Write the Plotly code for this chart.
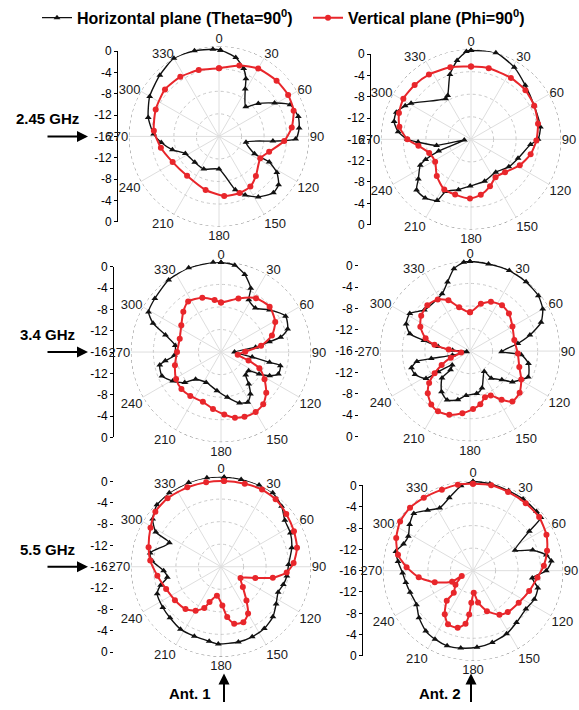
import plotly.graph_objects as go

# ---------------- data ----------------
ANGLE_TICKS = list(range(0, 360, 30))
ANGLE_LABELS = [str(a) for a in ANGLE_TICKS]
RADIAL_RANGE = [-16, 0]
SCALE_TICKVALS = [16, 12, 8, 4, 0, -4, -8, -12, -16]
SCALE_TICKTEXT = ['0', '-4', '-8', '-12', '-16', '-12', '-8', '-4', '0']
FREQ_LABELS = ['2.45 GHz', '3.4 GHz', '5.5 GHz']
ANT_LABELS = ['Ant. 1', 'Ant. 2']
SERIES_NAMES = ['Horizontal plane (Theta=90<sup>0</sup>)', 'Vertical plane (Phi=90<sup>0</sup>)']

# 2.45 GHz, Ant. 1
A1_245_H_THETA = [1, 12, 20, 25, 29, 42, 50, 59, 66, 76, 84, 92, 95, 102, 116, 117, 122, 129, 136, 147, 156, 163,
                  180, 205, 223, 243, 254, 264, 272, 285, 300, 316, 330, 344, 356]
A1_245_H_R = [-0.7, -1.7, -3.2, -4.7, -6.4, -8.9, -6.9, -4.5, -2.2, -1.5, -1.7, -2.4, -6.4, -11.1, -9.0, -6.0, -3.9,
              -2.4, -2.1, -3.2, -4.6, -6.1, -10.2, -9.6, -9.7, -9.3, -7.4, -5.7, -4.4, -3.0, -1.8, -0.9, 0, -0.2, -0.5]
A1_245_V_THETA = [0, 16, 30, 46, 59, 71, 83, 94, 107, 118, 137, 148, 160, 175, 194, 219, 241, 259, 275, 293, 311,
                  327, 343]
A1_245_V_R = [-3.9, -2.9, -2.1, -1.8, -1.7, -2.0, -3.0, -4.4, -6.7, -7.7, -6.4, -5.5, -5.3, -5.4, -6.2, -7.0, -6.6,
              -5.5, -4.4, -3.8, -3.3, -3.4, -3.7]

# 2.45 GHz, Ant. 2
A2_245_H_THETA = [0, 16, 31, 45, 62, 80, 90, 95, 112, 126, 143, 162, 181, 194, 206, 209, 218, 227, 233, 243, 246,
                  250, 264, 260, 267, 270, 276, 283, 290, 297, 301, 328, 332, 342, 350, 357]
A2_245_H_R = [-0.25, 0, -1.1, -2.4, -3.3, -3.5, -4.1, -5.4, -7.0, -7.7, -8.7, -8.2, -7.7, -6.8, -5.7, -3.6, -2.8,
              -2.8, -4.3, -5.9, -7.2, -9.9, -14.8, -9.8, -6.6, -4.7, -3.0, -2.0, -1.9, -2.9, -3.6, -7.5, -7.2, -3.9,
              -1.8, -0.4]
A2_245_V_THETA = [0, 14, 33, 48, 62, 77, 91, 104, 118, 134, 147, 158, 170, 181, 196, 208, 223, 238, 252, 263, 270,
                  280, 290, 301, 314, 327, 344]
A2_245_V_R = [-3.1, -3.0, -3.0, -3.0, -3.3, -3.8, -4.4, -5.1, -6.2, -7.6, -8.0, -7.0, -6.0, -5.5, -5.8, -5.9, -7.1,
              -8.5, -8.2, -6.6, -4.7, -3.1, -2.4, -2.0, -2.1, -2.3, -2.7]

# 3.4 GHz, Ant. 1
A1_34_H_THETA = [0, 9, 17, 25, 28, 38, 49, 61, 71, 76, 78, 82, 90, 99, 102, 103, 111, 116, 120, 124, 133, 139, 145,
                 152, 160, 172, 186, 206, 223, 230, 239, 248, 258, 261, 266, 278, 287, 293, 299, 309, 324, 339, 355]
A1_34_H_R = [-0.1, -0.4, -1.6, -3.5, -5.5, -6.1, -4.6, -2.9, -3.5, -5.1, -7.2, -9.8, -13.6, -10.4, -7.2, -5.2, -5.1,
             -6.4, -8.2, -10.1, -10.0, -8.5, -6.9, -5.9, -6.4, -7.9, -9.1, -10.0, -9.4, -7.6, -6.0, -4.7, -4.9, -6.0,
             -7.7, -7.8, -5.7, -2.9, -1.3, -0.9, -0.2, 0, 0]
A1_34_V_THETA = [0, 18, 33, 47, 61, 72, 81, 89, 99, 107, 113, 122, 132, 141, 150, 160, 168, 177, 188, 200, 215, 227,
                 239, 254, 270, 288, 304, 317, 327, 341, 353]
A1_34_V_R = [-7.2, -6.0, -4.6, -4.2, -5.0, -6.5, -8.8, -11.7, -13.0, -10.9, -8.6, -6.9, -5.2, -4.1, -3.7, -3.8, -4.1,
             -4.9, -5.8, -6.6, -6.5, -6.4, -6.7, -7.5, -8.2, -8.3, -7.5, -6.2, -5.3, -5.8, -6.7]

# 3.4 GHz, Ant. 2
A2_34_H_THETA = [0, 12, 26, 39, 51, 60, 68, 75, 81, 91, 94, 102, 114, 119, 126, 132, 142, 145, 162, 171, 185, 194,
                 205, 215, 226, 226, 232, 237, 238, 247, 254, 259, 259, 257, 260, 273, 278, 283, 286, 293, 302, 312,
                 334, 342, 349, 356]
A2_34_H_R = [-0.1, -0.2, -0.1, -0.2, -0.4, -1.1, -2.4, -5.0, -7.4, -10.4, -6.9, -5.4, -4.7, -5.6, -6.7, -8.4, -9.9,
             -11.6, -9.1, -8.4, -8.1, -7.1, -6.4, -7.2, -9.1, -11.2, -12.0, -9.3, -6.8, -5.4, -5.2, -6.4, -9.0, -12.8,
             -15.4, -12.9, -10.3, -7.6, -4.9, -3.7, -3.4, -5.1, -4.7, -3.1, -1.1, -0.2]
A2_34_V_THETA = [0, 13, 23, 35, 46, 60, 76, 93, 108, 119, 130, 140, 147, 155, 162, 169, 177, 187, 198, 208, 216, 225,
                 232, 238, 244, 251, 261, 274, 280, 286, 296, 306, 317, 328, 337, 346]
A2_34_V_R = [-9.1, -7.4, -6.5, -6.1, -6.4, -7.3, -7.9, -7.5, -6.8, -5.6, -4.5, -4.3, -5.7, -7.3, -7.4, -6.4, -5.7,
             -4.9, -4.1, -3.9, -4.3, -5.4, -6.8, -8.6, -10.4, -12.4, -14.4, -12.2, -9.6, -7.8, -6.2, -5.3, -4.9,
             -5.2, -6.2, -8.0]

# 5.5 GHz, Ant. 1
A1_55_H_THETA = [2, 13, 25, 35, 45, 54, 64, 75, 88, 98, 106, 114, 124, 134, 145, 156, 167, 182, 189, 201, 213, 225,
                 235, 247, 253, 259, 266, 275, 281, 295, 298, 305, 314, 325, 339, 351]
A1_55_H_R = [-0.1, -0.1, 0, 0, -0.8, -2.0, -2.3, -3.0, -4.0, -4.2, -4.5, -4.9, -4.2, -3.2, -2.6, -2.4, -2.3, -2.3,
             -2.6, -2.8, -2.8, -3.2, -3.4, -3.7, -4.8, -6.3, -5.8, -3.7, -3.2, -5.9, -2.9, -1.2, -0.2, 0, 0, 0]
A1_55_V_THETA = [2, 16, 28, 39, 51, 64, 76, 87, 95, 102, 108, 120, 133, 143, 150, 158, 167, 173, 178, 188, 198, 202,
                 210, 220, 234, 248, 262, 275, 285, 299, 310, 322, 337, 350]
A1_55_V_R = [-0.8, -0.7, -0.5, -0.6, -1.1, -1.6, -2.1, -3.1, -4.3, -6.6, -9.6, -12.0, -10.7, -8.5, -6.4, -5.4, -5.6,
             -7.0, -9.1, -10.8, -9.4, -8.1, -7.0, -6.2, -5.9, -5.5, -4.6, -3.4, -2.7, -1.7, -0.8, -0.6, -0.7, -0.8]

# 5.5 GHz, Ant. 2
A2_55_H_THETA = [0, 11, 24, 35, 47, 52, 55, 64, 71, 78, 83, 90, 97, 105, 115, 126, 140, 152, 165, 177, 189, 199, 209,
                 218, 229, 239, 251, 260, 268, 277, 284, 291, 298, 306, 314, 323, 332, 342, 352]
A2_55_H_R = [-0.2, -0.3, -0.5, -0.5, -0.6, -0.7, -3.8, -7.7, -4.8, -2.7, -2.0, -3.0, -5.4, -4.1, -4.0, -4.4, -4.0,
             -3.3, -2.8, -2.4, -2.1, -1.9, -2.1, -2.4, -3.3, -4.3, -4.2, -3.9, -3.5, -2.6, -1.9, -2.8, -3.0, -2.1,
             -1.4, -2.6, -3.4, -2.4, -0.8]
A2_55_V_THETA = [0, 12, 24, 38, 51, 64, 75, 86, 96, 110, 125, 140, 149, 161, 171, 178, 183, 185, 188, 195, 205, 213,
                 221, 221, 231, 245, 242, 253, 263, 273, 282, 293, 304, 315, 326, 339, 350]
A2_55_V_R = [-0.6, -0.5, -0.7, -0.8, -0.9, -1.5, -2.4, -3.4, -4.5, -5.4, -6.1, -6.4, -6.9, -8.4, -10.3, -12.1, -10.3,
             -8.2, -6.5, -5.5, -5.5, -6.8, -8.9, -10.8, -12.0, -13.8, -11.8, -8.9, -6.3, -4.2, -2.4, -1.2, -0.4, -0.2,
             -0.4, -0.6, -0.5]

PANELS = [
    (A1_245_H_THETA, A1_245_H_R, A1_245_V_THETA, A1_245_V_R),
    (A2_245_H_THETA, A2_245_H_R, A2_245_V_THETA, A2_245_V_R),
    (A1_34_H_THETA, A1_34_H_R, A1_34_V_THETA, A1_34_V_R),
    (A2_34_H_THETA, A2_34_H_R, A2_34_V_THETA, A2_34_V_R),
    (A1_55_H_THETA, A1_55_H_R, A1_55_V_THETA, A1_55_V_R),
    (A2_55_H_THETA, A2_55_H_R, A2_55_V_THETA, A2_55_V_R),
]

# ---------------- layout geometry (pixels) ----------------
W, H = 579, 710
POLAR_RAD = 92      # domain half-size of each polar subplot
SCALE_RAD = 87      # half-height of the left dB scale
CENTERS = [(219, 132), (471, 135), (221, 352), (470, 351), (221, 571), (473, 575)]
SCALE_X = [117, 370, 113, 358, 113, 362]
SCALE_LINE = [True, True, True, False, False, True]
BLACK = '#111111'
RED = '#e8262b'
FONT = 'Arial, Liberation Sans, sans-serif'


def closed(seq):
    return list(seq) + list(seq[:1])


fig = go.Figure()
layout = dict(width=W, height=H, margin=dict(l=0, r=0, t=0, b=0),
              paper_bgcolor='white', plot_bgcolor='white')

for i, (hth, hr, vth, vr) in enumerate(PANELS):
    pid = 'polar' if i == 0 else f'polar{i + 1}'
    cx, cy = CENTERS[i]
    xd = [(cx - POLAR_RAD) / W, (cx + POLAR_RAD) / W]
    yd = [1 - (cy + POLAR_RAD) / H, 1 - (cy - POLAR_RAD) / H]
    layout[pid] = dict(
        domain=dict(x=xd, y=yd),
        bgcolor='white',
        radialaxis=dict(range=RADIAL_RANGE, tickvals=[-12, -8, -4], showticklabels=False, ticks='',
                        showline=False, gridcolor='#c9c9c9', griddash='dot', gridwidth=1),
        angularaxis=dict(rotation=90, direction='clockwise', tickvals=ANGLE_TICKS, ticktext=ANGLE_LABELS,
                         tickfont=dict(family=FONT, size=13, color='#1a1a1a'), ticks='',
                         showline=False, gridcolor='#dedede', gridwidth=1),
    )
    # outer 0 dB frame circle (dotted)
    ring = list(range(0, 361, 3))
    fig.add_trace(go.Scatterpolar(theta=ring, r=[RADIAL_RANGE[1]] * len(ring), mode='lines', subplot=pid,
                                  line=dict(color='#7a7a7a', width=1, dash='dot'), showlegend=False,
                                  hoverinfo='skip'))
    fig.add_trace(go.Scatterpolar(theta=closed(hth), r=closed(hr), mode='lines+markers', subplot=pid,
                                  name=SERIES_NAMES[0], legendgroup='h', showlegend=(i == 0),
                                  line=dict(color=BLACK, width=1.4, shape='spline', smoothing=0.6),
                                  marker=dict(symbol='triangle-up', size=6, color=BLACK)))
    fig.add_trace(go.Scatterpolar(theta=closed(vth), r=closed(vr), mode='lines+markers', subplot=pid,
                                  name=SERIES_NAMES[1], legendgroup='v', showlegend=(i == 0),
                                  line=dict(color=RED, width=2, shape='spline', smoothing=0.6),
                                  marker=dict(symbol='circle', size=6, color=RED)))

    # left dB scale as a cartesian axis
    k = i + 1
    px = SCALE_X[i] / W
    syd = [1 - (cy + SCALE_RAD) / H, 1 - (cy - SCALE_RAD) / H]
    layout[f'xaxis{k}'] = dict(domain=[px, min(px + 0.02, 1)], visible=False, range=[0, 1], anchor=f'y{k}')
    layout[f'yaxis{k}'] = dict(domain=syd, range=[-16, 16], anchor='free', position=px, side='left',
                               tickvals=SCALE_TICKVALS, ticktext=SCALE_TICKTEXT, ticks='outside', ticklen=3,
                               tickcolor='black', showline=SCALE_LINE[i], linecolor='black', linewidth=1,
                               showgrid=False, zeroline=False,
                               tickfont=dict(family=FONT, size=12, color='black'))
    fig.add_trace(go.Scatter(x=[None], y=[None], xaxis=f'x{k}', yaxis=f'y{k}', showlegend=False,
                             hoverinfo='skip'))

annotations = []
for j, lab in enumerate(FREQ_LABELS):
    cy = CENTERS[2 * j][1]
    annotations.append(dict(text=f'<b>{lab}</b>', x=47 / W, y=1 - (cy - 18) / H, xref='paper', yref='paper',
                            xanchor='center', yanchor='middle', showarrow=False,
                            font=dict(family=FONT, size=15, color='black')))
    annotations.append(dict(text='', x=88 / W, y=1 - cy / H, xref='paper', yref='paper', ax=-42, ay=0,
                            showarrow=True, arrowhead=2, arrowsize=1.1, arrowwidth=2, arrowcolor='black'))
for j, lab in enumerate(ANT_LABELS):
    tx = [190, 440][j]
    axx = [224, 471][j]
    annotations.append(dict(text=f'<b>{lab}</b>', x=tx / W, y=1 - 700 / H, xref='paper', yref='paper',
                            xanchor='center', yanchor='middle', showarrow=False,
                            font=dict(family=FONT, size=15, color='black')))
    annotations.append(dict(text='', x=axx / W, y=1 - 680 / H, xref='paper', yref='paper', ax=0, ay=30,
                            showarrow=True, arrowhead=2, arrowsize=1.1, arrowwidth=2, arrowcolor='black'))

layout['annotations'] = annotations
layout['showlegend'] = True
layout['legend'] = dict(orientation='h', x=0.072, y=1.009, xanchor='left', yanchor='top',
                        font=dict(family=FONT, size=16, color='black', weight='bold'),
                        bgcolor='rgba(0,0,0,0)', itemwidth=30, entrywidth=226, entrywidthmode='pixels')
fig.update_layout(**layout)
fig.write_html('out.html')
